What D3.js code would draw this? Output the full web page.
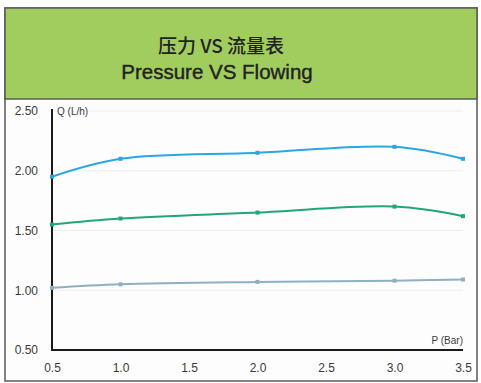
<!DOCTYPE html>
<html><head><meta charset="utf-8">
<script src="https://cdn.jsdelivr.net/npm/d3@7"></script>
<style>body{margin:0;background:#fff}svg{display:block}</style>
</head><body>
<script>
const pressure = [0.5, 1.0, 2.0, 3.0, 3.5];
const seriesBlue = [1.95, 2.10, 2.15, 2.20, 2.10];
const seriesGreen = [1.55, 1.60, 1.65, 1.70, 1.62];
const seriesGray = [1.02, 1.05, 1.07, 1.08, 1.09];
const xTicks = [0.5, 1.0, 1.5, 2.0, 2.5, 3.0, 3.5];
const yTicks = [0.5, 1.0, 1.5, 2.0, 2.5];
const titleLines = ["压力 VS 流量表", "Pressure VS Flowing"];

const W = 481, H = 383;
const svg = d3.select("body").append("svg").attr("width", W).attr("height", H);

svg.append("rect").attr("x",5).attr("y",8).attr("width",472).attr("height",373)
  .attr("fill","#fdfdfe").attr("stroke","#5a5a5a").attr("stroke-width",1.5);
svg.append("rect").attr("x",5).attr("y",8).attr("width",472).attr("height",91)
  .attr("fill","#a1cd5f").attr("stroke","#5a5a5a").attr("stroke-width",1.5);

svg.append("text").attr("x",221).attr("y",53).attr("text-anchor","middle")
  .attr("font-family","'Noto Sans CJK SC', sans-serif").attr("font-size",19).attr("font-weight",500)
  .attr("fill","#222").text(titleLines[0]);
svg.append("text").attr("x",217).attr("y",79).attr("text-anchor","middle")
  .attr("font-family","'Liberation Sans', Arial, sans-serif").attr("font-size",20.5)
  .attr("fill","#222").attr("stroke","#222").attr("stroke-width",0.4).text(titleLines[1]);

const x = d3.scaleLinear().domain([0.5, 3.5]).range([52, 463]);
const y = d3.scaleLinear().domain([0.5, 2.5]).range([350, 111]);

svg.append("g").selectAll("line").data(yTicks.slice(1)).join("line")
  .attr("x1", x(0.5)).attr("x2", x(3.5)).attr("y1", d=>y(d)).attr("y2", d=>y(d))
  .attr("stroke","#e9eef3").attr("stroke-width",1);

const yAxis = d3.axisLeft(y).tickValues(yTicks).tickFormat(d3.format(".2f")).tickSize(0).tickPadding(14);
const gy = svg.append("g").attr("transform",`translate(${x(0.5)},0)`).call(yAxis);
gy.select(".domain").remove();
gy.selectAll("text").attr("font-family","'Liberation Sans', Arial, sans-serif").attr("font-size",12).attr("fill","#3a3a3a");

const xAxis = d3.axisBottom(x).tickValues(xTicks).tickFormat(d3.format(".1f")).tickSize(0).tickPadding(13);
const gx = svg.append("g").attr("transform",`translate(0,${y(0.5)})`).call(xAxis);
gx.select(".domain").remove();
gx.selectAll("text").attr("font-family","'Liberation Sans', Arial, sans-serif").attr("font-size",12).attr("fill","#3a3a3a");

svg.append("path").attr("d", `M${x(0.5)},${y(2.5)-2}V${y(0.5)}H${x(3.5)}`)
  .attr("fill","none").attr("stroke","#1a1a1a").attr("stroke-width",2);

svg.append("text").attr("x", x(0.5)+5).attr("y", y(2.5)+4)
  .attr("font-family","'Liberation Sans', Arial, sans-serif").attr("font-size",10).attr("fill","#3a3a3a").text("Q (L/h)");
svg.append("text").attr("x", x(3.5)).attr("y", y(0.5)-6).attr("text-anchor","end")
  .attr("font-family","'Liberation Sans', Arial, sans-serif").attr("font-size",10).attr("fill","#3a3a3a").text("P (Bar)");

const series = [
  {vals: seriesBlue, color: "#2aa7e3"},
  {vals: seriesGreen, color: "#1fa67a"},
  {vals: seriesGray, color: "#8fb0c2"}
];
const line = d3.line().x(d=>x(d[0])).y(d=>y(d[1])).curve(d3.curveCatmullRom.alpha(0.5));
series.forEach(s => {
  const pts = pressure.map((p,i)=>[p, s.vals[i]]);
  svg.append("path").attr("d", line(pts)).attr("fill","none").attr("stroke", s.color).attr("stroke-width",2);
  svg.append("g").selectAll("rect").data(pts).join("rect")
    .attr("x", d=>x(d[0])-2).attr("y", d=>y(d[1])-2).attr("width",4).attr("height",4)
    .attr("fill", s.color);
});
</script>
</body></html>
